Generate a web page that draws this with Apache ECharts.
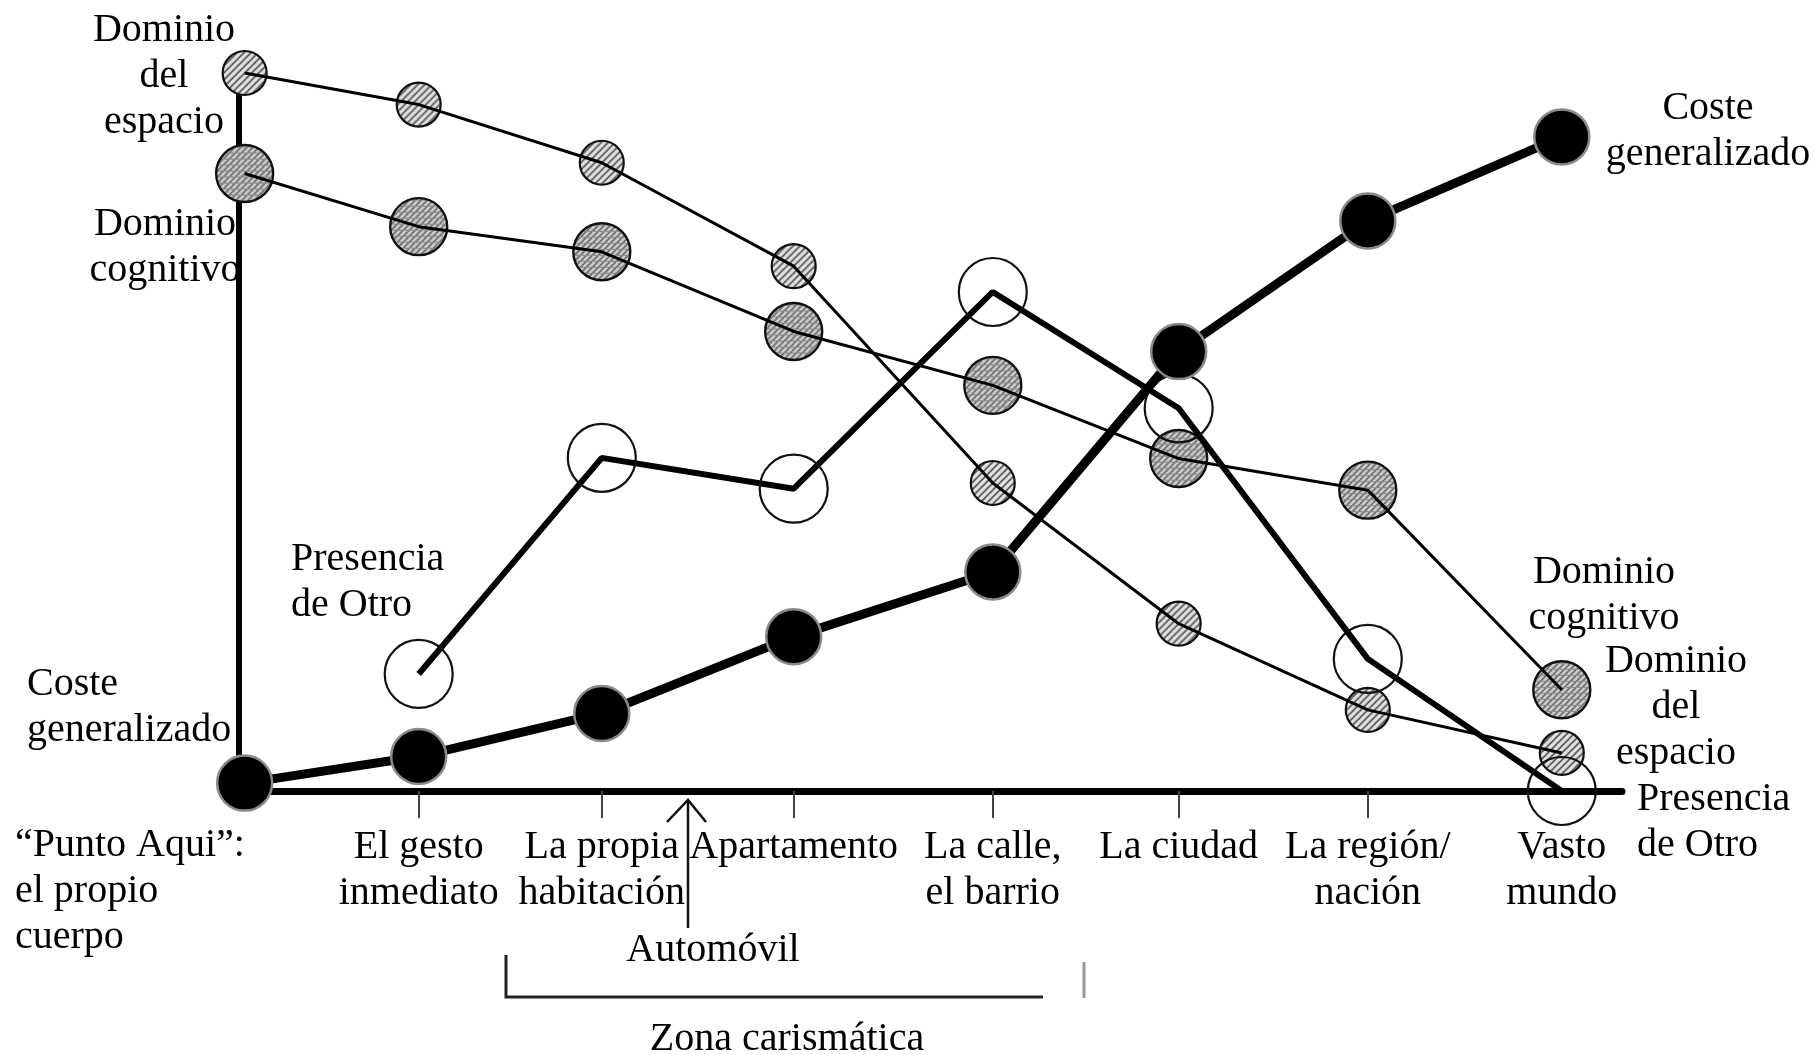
<!DOCTYPE html>
<html>
<head>
<meta charset="utf-8">
<script src="https://cdn.jsdelivr.net/npm/echarts@6/dist/echarts.min.js"></script>
<style>
html,body{margin:0;padding:0;background:#fff;}
#chart{width:1814px;height:1055px;}
</style>
</head>
<body>
<div id="chart"></div>
<script>
// ---- data ----
const categories = ['“Punto Aqui”:\nel propio\ncuerpo', 'El gesto\ninmediato', 'La propia\nhabitación', 'Apartamento', 'La calle,\nel barrio', 'La ciudad', 'La región/\nnación', 'Vasto\nmundo'];
// position of each category along the (non-uniform) horizontal scale
const xPos = [0, 0.925, 1.898, 2.918, 3.976, 4.964, 5.969, 7];
const dominioEspacio   = [100, 95.6, 87.5, 73.1, 42.9, 23.3, 11.3, 5.3];
const dominioCognitivo = [86.0, 78.6, 75.1, 64.0, 56.5, 46.3, 41.9, 14.1];
const presenciaOtro    = [null, 16.3, 46.4, 42.1, 69.5, 53.3, 18.4, 0];
const costeGeneral     = [1.1, 4.8, 10.8, 21.5, 30.5, 61.2, 79.4, 91.1];

const pairs = arr => arr.map((v, i) => v === null ? null : [xPos[i], v]).filter(p => p !== null);

// symbol paths are drawn at unit size and scaled by symbolSize/2, so the pattern is scaled back
function makePattern(size, bg, stroke, lw, hline, symSize) {
  const c = document.createElement('canvas');
  const s = size;
  c.width = s; c.height = s;
  const g = c.getContext('2d');
  g.fillStyle = bg; g.fillRect(0, 0, s, s);
  g.strokeStyle = stroke; g.lineWidth = lw;
  g.beginPath();
  g.moveTo(-1, s + 1); g.lineTo(s + 1, -1);
  g.moveTo(-1, 1); g.lineTo(1, -1);
  g.moveTo(s - 1, s + 1); g.lineTo(s + 1, s - 1);
  g.stroke();
  if (hline) {
    g.fillStyle = hline;
    g.fillRect(0, Math.floor(s / 2), s, 1);
  }
  const k = 2 / symSize;
  return { image: c, repeat: 'repeat', scaleX: k, scaleY: k };
}
const SIZE_DE = 44, SIZE_DC = 57;
const hatchLight = makePattern(7, '#e2e2e2', '#555', 1.6, null, SIZE_DE);
const hatchDark = makePattern(6, '#cfcfcf', '#555', 1.4, '#8a8a8a', SIZE_DC);

const FONT = 'Liberation Serif';
function txt(text, x, y, align) {
  return { type: 'text', x: x, y: y, z: 100,
    style: { text: text, fill: '#000', fontSize: 40, fontFamily: FONT, lineHeight: 46,
      align: align, verticalAlign: 'top' } };
}

const chart = echarts.init(document.getElementById('chart'), null, { renderer: 'canvas' });
const option = {
  backgroundColor: '#fff',
  animation: false,
  grid: { left: 239, right: 192, top: 73, bottom: 264, containLabel: false, outerBoundsMode: 'none' },
  xAxis: {
    type: 'value', min: -0.03, max: 7.32,
    splitLine: { show: false },
    axisLine: { show: true, onZero: false, lineStyle: { color: '#000', width: 7 } },
    axisTick: { show: true, customValues: xPos.slice(1, 7), length: 27, inside: false,
      lineStyle: { color: '#444', width: 2 } },
    axisLabel: {
      show: true, customValues: xPos.slice(1), margin: 33, hideOverlap: false,
      color: '#000', fontSize: 40, fontFamily: FONT, lineHeight: 46,
      formatter: function (v) {
        let best = 0, d = 1e9;
        xPos.forEach((p, i) => { if (Math.abs(p - v) < d) { d = Math.abs(p - v); best = i; } });
        return categories[best];
      }
    }
  },
  yAxis: {
    type: 'value', min: 0, max: 100,
    splitLine: { show: false },
    axisLine: { show: true, onZero: false, lineStyle: { color: '#000', width: 6 } },
    axisTick: { show: false },
    axisLabel: { show: false }
  },
  series: [
    { name: 'Dominio del espacio (marcas)', type: 'scatter', z: 2, data: pairs(dominioEspacio),
      symbol: 'circle', symbolSize: SIZE_DE,
      itemStyle: { color: hatchLight, borderColor: '#111', borderWidth: 2.2, opacity: 1 } },
    { name: 'Dominio cognitivo (marcas)', type: 'scatter', z: 2, data: pairs(dominioCognitivo),
      symbol: 'circle', symbolSize: SIZE_DC,
      itemStyle: { color: hatchDark, borderColor: '#111', borderWidth: 2.4, opacity: 1 } },
    { name: 'Dominio del espacio', type: 'line', z: 3, data: pairs(dominioEspacio),
      showSymbol: false, lineStyle: { color: '#000', width: 3 } },
    { name: 'Dominio cognitivo', type: 'line', z: 3, data: pairs(dominioCognitivo),
      showSymbol: false, lineStyle: { color: '#000', width: 3 } },
    { name: 'Presencia de Otro', type: 'line', z: 4, data: pairs(presenciaOtro),
      symbol: 'circle', symbolSize: 68, showSymbol: true,
      lineStyle: { color: '#000', width: 6 },
      itemStyle: { color: 'rgba(255,255,255,0)', borderColor: '#111', borderWidth: 2.2 } },
    { name: 'Coste generalizado', type: 'line', z: 5, data: pairs(costeGeneral),
      symbol: 'circle', symbolSize: 55, showSymbol: true,
      lineStyle: { color: '#000', width: 9 },
      itemStyle: { color: '#000', borderColor: '#8a8a8a', borderWidth: 2.5 } }
  ],
  graphic: [
    txt('Dominio\ndel\nespacio', 164, 7, 'center'),
    txt('Dominio\ncognitivo', 165, 201, 'center'),
    txt('Presencia\nde Otro', 291, 536, 'left'),
    txt('Coste\ngeneralizado', 27, 661, 'left'),
    txt('“Punto Aqui”:\nel propio\ncuerpo', 15, 822, 'left'),
    txt('Coste\ngeneralizado', 1708, 85, 'center'),
    txt('Dominio\ncognitivo', 1604, 549, 'center'),
    txt('Dominio\ndel\nespacio', 1676, 638, 'center'),
    txt('Presencia\nde Otro', 1637, 776, 'left'),
    txt('Automóvil', 713, 927, 'center'),
    txt('Zona carismática', 787, 1016, 'center'),
    { type: 'polyline', z: 100, shape: { points: [[688, 928], [688, 801]] }, style: { stroke: '#111', lineWidth: 2.5, fill: null } },
    { type: 'polyline', z: 100, shape: { points: [[667, 822], [688, 800], [706, 822]] }, style: { stroke: '#111', lineWidth: 2.5, fill: null } },
    { type: 'polyline', z: 100, shape: { points: [[506, 955], [506, 997], [1043, 997]] }, style: { stroke: '#222', lineWidth: 3, fill: null } },
    { type: 'polyline', z: 100, shape: { points: [[1084, 962], [1084, 998]] }, style: { stroke: '#999', lineWidth: 3, fill: null } }
  ]
};
chart.setOption(option);
</script>
</body>
</html>
